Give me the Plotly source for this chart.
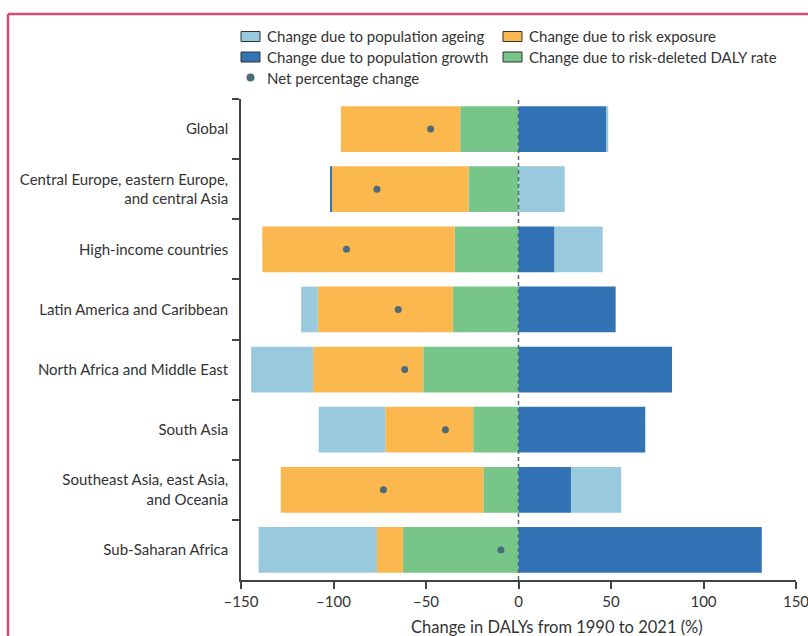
import plotly.graph_objects as go

# Regions (top to bottom)
regions = [
    "Global",
    "Central Europe, eastern Europe,<br>and central Asia",
    "High-income countries",
    "Latin America and Caribbean",
    "North Africa and Middle East",
    "South Asia",
    "Southeast Asia, east Asia,<br>and Oceania",
    "Sub-Saharan Africa",
]

# Decomposition of the change in DALYs, 1990 to 2021 (%)
risk_deleted = [-31.5, -27.0, -34.5, -35.5, -51.5, -24.5, -19.0, -62.5]
risk_exposure = [-64.5, -74.0, -104.0, -73.0, -59.5, -47.5, -109.5, -14.0]
pop_growth = [47.5, -0.5, 19.5, 52.5, 83.0, 68.5, 28.5, 131.5]
pop_ageing = [1.0, 25.0, 26.0, -9.0, -33.5, -36.0, 27.0, -64.0]
net_change = [-47.5, -76.5, -93.0, -65.0, -61.5, -39.5, -73.0, -9.5]

x_ticks = [-150, -100, -50, 0, 50, 100, 150]

C_AGEING = "#99c9dc"
C_EXPOSURE = "#fbb84e"
C_GROWTH = "#3273b5"
C_DELETED = "#77c589"
C_NET = "#4e6b7a"

FONT = "Lato"
TXT = "#333333"
FS = 15

fig = go.Figure()

# Stacking order outward from zero: risk-deleted, exposure, growth, ageing
series = [
    ("Change due to risk-deleted DALY rate", risk_deleted, C_DELETED),
    ("Change due to risk exposure", risk_exposure, C_EXPOSURE),
    ("Change due to population growth", pop_growth, C_GROWTH),
    ("Change due to population ageing", pop_ageing, C_AGEING),
]
for name, vals, col in series:
    fig.add_trace(go.Bar(
        x=vals, y=regions, orientation="h", name=name,
        marker=dict(color=col, line=dict(width=0)),
        showlegend=False, hoverinfo="x+name",
    ))

fig.add_trace(go.Scatter(
    x=net_change, y=regions, mode="markers", name="Net percentage change",
    marker=dict(color=C_NET, size=7), showlegend=False,
))

L, R, T, B = 241, 12, 99, 56
W, H = 808, 636
pw, ph = W - L - R, H - T - B


def px_x(px):
    return (px - L) / pw


def px_y(py):
    return (H - B - py) / ph


shapes = [
    # dashed zero reference
    dict(type="line", xref="x", yref="paper", x0=0, x1=0, y0=0, y1=1,
         line=dict(color=C_NET, width=1.5, dash="4px,3px"), layer="above"),
    # frame
    dict(type="line", xref="paper", yref="paper",
         x0=px_x(8), x1=px_x(8), y0=px_y(14), y1=px_y(H + 5),
         line=dict(color="#d64c78", width=2.5)),
    dict(type="line", xref="paper", yref="paper",
         x0=px_x(8), x1=px_x(W + 5), y0=px_y(14), y1=px_y(14),
         line=dict(color="#d64c78", width=2.5)),
]
annotations = []

# Key: two columns of swatches, then the net-change marker
key_items = [
    ("Change due to population ageing", C_AGEING, 0, 0, "box"),
    ("Change due to risk exposure", C_EXPOSURE, 1, 0, "box"),
    ("Change due to population growth", C_GROWTH, 0, 1, "box"),
    ("Change due to risk-deleted DALY rate", C_DELETED, 1, 1, "box"),
    ("Net percentage change", C_NET, 0, 2, "dot"),
]
col_x = [241, 503]
row_y = [36.5, 57.0, 77.5]
for label, col, ci, ri, kind in key_items:
    x0, yc = col_x[ci], row_y[ri]
    if kind == "box":
        shapes.append(dict(
            type="rect", xref="paper", yref="paper",
            x0=px_x(x0), x1=px_x(x0 + 19), y0=px_y(yc - 5), y1=px_y(yc + 5),
            fillcolor=col, line=dict(color="#333333", width=1),
        ))
    else:
        shapes.append(dict(
            type="circle", xref="paper", yref="paper",
            x0=px_x(x0 + 5.5), x1=px_x(x0 + 13.5),
            y0=px_y(yc - 4), y1=px_y(yc + 4),
            fillcolor=col, line=dict(width=0),
        ))
    annotations.append(dict(
        text=label, xref="paper", yref="paper",
        x=px_x(x0 + 24), y=px_y(yc), xanchor="left", yanchor="middle",
        showarrow=False, font=dict(family=FONT, size=FS, color=TXT),
    ))

annotations.append(dict(
    text="Change in DALYs from 1990 to 2021 (%)", xref="paper", yref="paper",
    x=px_x(557), y=px_y(627), xanchor="center", yanchor="middle",
    showarrow=False, font=dict(family=FONT, size=16.5, color=TXT),
))

fig.update_layout(
    width=W, height=H,
    margin=dict(l=L, r=R, t=T, b=B, autoexpand=False),
    paper_bgcolor="white", plot_bgcolor="white",
    barmode="relative", bargap=0.24,
    font=dict(family=FONT, size=FS, color=TXT),
    showlegend=False,
    xaxis=dict(
        range=[-150, 150], tickvals=x_ticks,
        ticktext=[f"\u2013{abs(v)}" if v < 0 else str(v) for v in x_ticks],
        showgrid=False, zeroline=False, automargin=False,
        showline=True, linecolor="#444444", linewidth=1.5,
        ticks="outside", ticklen=7, tickwidth=1.5, tickcolor="#444444",
        tickfont=dict(size=FS, color=TXT), ticklabeloverflow="allow",
    ),
    yaxis=dict(
        type="category", categoryorder="array", categoryarray=regions,
        range=[7.5, -0.5], automargin=False,
        showgrid=False, zeroline=False,
        showline=True, linecolor="#444444", linewidth=1.5,
        ticks="outside", ticklen=7, tickwidth=1.5, tickcolor="#444444",
        tickson="boundaries", ticklabelstandoff=8,
        tickfont=dict(size=FS, color=TXT),
    ),
    shapes=shapes,
    annotations=annotations,
)

fig.write_html("out.html")
